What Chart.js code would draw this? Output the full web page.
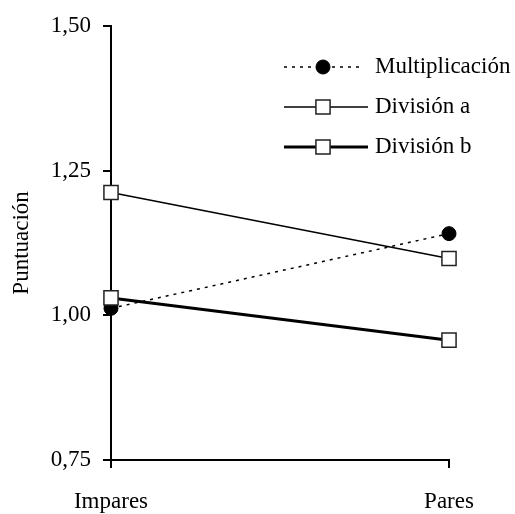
<!DOCTYPE html>
<html><head><meta charset="utf-8">
<script src="https://cdn.jsdelivr.net/npm/chart.js@4/dist/chart.umd.min.js"></script>
<style>html,body{margin:0;padding:0;background:#fff}#wrap{width:515px;height:514px}</style>
</head><body><div id="wrap"><canvas id="c" width="515" height="514"></canvas></div>
<script>
const categories = ["Impares", "Pares"];
const multiplicacion = [1.012, 1.141];
const divisionA = [1.212, 1.098];
const divisionB = [1.030, 0.957];
const yTicks = [0.75, 1.00, 1.25, 1.50];
const seriesNames = ["Multiplicación", "División a", "División b"];

const FONT = "'Liberation Serif', 'DejaVu Serif', serif";
const FSIZE = 23;

const legendPlugin = {
  id: 'customLegend',
  afterDraw(chart) {
    const ctx = chart.ctx;
    const rows = [67, 107, 147];
    chart.data.datasets.forEach((ds, i) => {
      const y = rows[i];
      ctx.save();
      ctx.strokeStyle = ds.borderColor;
      ctx.lineWidth = ds.borderWidth;
      ctx.setLineDash(ds.borderDash || []);
      ctx.beginPath();
      ctx.moveTo(284, y); ctx.lineTo(i === 0 ? 360 : 368, y);
      ctx.stroke();
      ctx.setLineDash([]);
      ctx.fillStyle = ds.pointBackgroundColor;
      ctx.strokeStyle = ds.pointBorderColor;
      ctx.lineWidth = ds.pointBorderWidth;
      ctx.beginPath();
      if (ds.pointStyle === 'circle') {
        ctx.arc(323, y, ds.pointRadius, 0, Math.PI * 2);
      } else {
        const s = Math.SQRT1_2 * ds.pointRadius;
        ctx.rect(323 - s, y - s, 2 * s, 2 * s);
      }
      ctx.fill(); ctx.stroke();
      ctx.fillStyle = '#000';
      ctx.font = FSIZE + "px " + FONT;
      ctx.textBaseline = 'middle';
      ctx.textAlign = 'left';
      ctx.fillText(ds.label, 375, y);
      ctx.restore();
    });
  }
};

new Chart(document.getElementById('c'), {
  type: 'line',
  data: {
    labels: categories,
    datasets: [
      { label: seriesNames[0], data: multiplicacion, borderColor: '#000', borderWidth: 1.5,
        borderDash: [3, 5], pointStyle: 'circle', pointRadius: 7, pointBackgroundColor: '#000',
        pointBorderColor: '#000', pointBorderWidth: 1, order: 2 },
      { label: seriesNames[1], data: divisionA, borderColor: '#000', borderWidth: 1.5,
        pointStyle: 'rect', pointRadius: 10, pointBackgroundColor: '#fff',
        pointBorderColor: '#222', pointBorderWidth: 1.5, order: 1 },
      { label: seriesNames[2], data: divisionB, borderColor: '#000', borderWidth: 3,
        pointStyle: 'rect', pointRadius: 10, pointBackgroundColor: '#fff',
        pointBorderColor: '#222', pointBorderWidth: 1.5, order: 0 }
    ]
  },
  options: {
    responsive: false,
    animation: false,
    events: [],
    layout: { padding: { top: 24, right: 66, left: 0, bottom: 0 } },
    plugins: { legend: { display: false }, tooltip: { enabled: false } },
    scales: {
      x: {
        type: 'category',
        offset: false,
        afterFit(s) { s.height = 54; },
        grid: { drawOnChartArea: false, drawTicks: true, tickLength: 8, color: '#000', lineWidth: 2 },
        border: { display: true, color: '#000', width: 2 },
        ticks: { color: '#000', font: { family: FONT, size: FSIZE }, padding: 20, maxRotation: 0 }
      },
      y: {
        min: 0.75, max: 1.5,
        afterFit(s) { s.width = 111; },
        afterBuildTicks(s) { s.ticks = yTicks.map(v => ({ value: v })); },
        grid: { drawOnChartArea: false, drawTicks: true, tickLength: 8, color: '#000', lineWidth: 2 },
        border: { display: true, color: '#000', width: 2 },
        ticks: { color: '#000', font: { family: FONT, size: FSIZE }, padding: 12,
          callback: v => v.toFixed(2).replace('.', ',') },
        title: { display: true, text: 'Puntuación', color: '#000', font: { family: FONT, size: FSIZE }, padding: { top: 8, bottom: 0 } }
      }
    }
  },
  plugins: [legendPlugin]
});
</script>
</body></html>
